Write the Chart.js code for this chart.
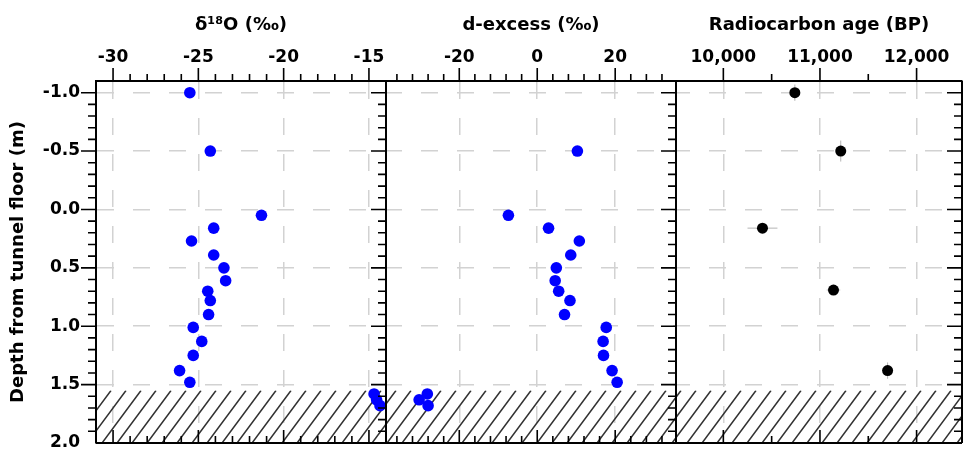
<!DOCTYPE html>
<html>
<head>
<meta charset="utf-8">
<script src="https://cdn.jsdelivr.net/npm/chart.js@4.4.0/dist/chart.umd.min.js"></script>
<style>
  html, body { margin: 0; padding: 0; background: #fff; overflow: hidden; }
  #contenedor { position: relative; width: 963px; height: 460px; }
</style>
</head>
<body>
<div id="contenedor"><canvas id="grafico" width="963" height="460"></canvas></div>
<script>
// datos (profundidad en m bajo el piso del tunel)
const depthIso = [-1.0, -0.5, 0.05, 0.16, 0.27, 0.39, 0.50, 0.61, 0.70, 0.78, 0.90, 1.01, 1.13, 1.25, 1.38, 1.48, 1.58, 1.63, 1.68]
const d18o     = [-25.5, -24.3, -21.3, -24.1, -25.4, -24.1, -23.5, -23.4, -24.45, -24.3, -24.4, -25.3, -24.8, -25.3, -26.1, -25.5, -14.7, -14.55, -14.35]

const depthDex = [-0.5, 0.05, 0.16, 0.27, 0.39, 0.50, 0.61, 0.70, 0.78, 0.90, 1.01, 1.13, 1.25, 1.38, 1.48, 1.58, 1.63, 1.68]
const dExcess  = [10.3, -7.4, 2.9, 10.8, 8.6, 4.9, 4.6, 5.5, 8.4, 7.0, 17.7, 16.9, 17.0, 19.2, 20.5, -28.2, -30.3, -28.0]

const depthC14 = [-1.0, -0.5, 0.16, 0.69, 1.38]
const ageC14   = [10740, 11215, 10405, 11140, 11700]
const ageErr   = [30, 30, 155, 70, 30]
const depthErr = [0.07, 0.09, 0.02, 0.02, 0.07]

// zona achurada (roca / sin muestra)
const hatchDepth = [1.55, 2.0]

// ejes y ticks
const yRange    = [-1.1, 2.0]
const yMajor    = [-1.0, -0.5, 0.0, 0.5, 1.0, 1.5, 2.0]
const d18oRange = [-31, -14]
const d18oMajor = [-30, -25, -20, -15]
const dexRange  = [-38.8, 35.6]
const dexMajor  = [-20, 0, 20]
const ageRange  = [9510, 12470]
const ageMajor  = [10000, 11000, 12000]

const fuente = "'DejaVu Sans', sans-serif"
const colorGrid = '#d2d2d2'
Chart.defaults.font.family = fuente
Chart.defaults.color = '#000'

function todosTicks(range, step) {
  const out = []
  const k0 = Math.ceil(range[0] / step - 1e-9)
  const k1 = Math.floor(range[1] / step + 1e-9)
  for (let k = k0; k <= k1; k++) out.push({value: +(k * step).toFixed(6)})
  return out
}
function esMayor(v, mayores) {
  return mayores.some(m => Math.abs(m - v) < 1e-6)
}

const mayoresDe = {x1: d18oMajor, x2: dexMajor, x3: ageMajor, y: yMajor}

function ejeX(range, step, mayores, titulo, peso, formato) {
  return {
    type: 'linear', axis: 'x', position: 'top', stack: 'arriba', stackWeight: peso,
    min: range[0], max: range[1],
    afterBuildTicks: s => { s.ticks = todosTicks(range, step) },
    afterFit: s => {
      s.height = 81
      s.paddingLeft = 0
      s.paddingRight = 0
    },
    ticks: {
      autoSkip: false, maxRotation: 0, padding: 0,
      font: {size: 17, weight: 'bold'},
      callback: v => esMayor(v, mayores) ? formato(v) : ''
    },
    grid: {
      drawTicks: true, tickLength: 13, tickWidth: 0, lineWidth: 1.5,
      color: ctx => ctx.tick && esMayor(ctx.tick.value, mayores) ? colorGrid : 'transparent'
    },
    border: {display: true, color: '#000', width: 2, dash: [17, 19]},
    title: {display: true, text: titulo, font: {size: 18, weight: 'bold'}, padding: {top: 15, bottom: 0}}
  }
}

const marcoPlugin = {
  id: 'marco',
  beforeDatasetsDraw(chart) {
    const {ctx, chartArea: a, scales} = chart
    const y = scales.y
    // achurado
    const yTop = y.getPixelForValue(hatchDepth[0])
    const yBot = y.getPixelForValue(hatchDepth[1])
    const h = yBot - yTop
    const dx = h / 1.35
    ctx.save()
    ctx.beginPath()
    ctx.rect(a.left, yTop, a.right - a.left, h)
    ctx.clip()
    ctx.strokeStyle = '#333'
    ctx.lineWidth = 1.5
    ctx.beginPath()
    for (let x = a.left - dx; x < a.right + dx; x += 15) {
      ctx.moveTo(x, yBot)
      ctx.lineTo(x + dx, yTop)
    }
    ctx.stroke()
    ctx.restore()

    // barras de error radiocarbono
    const sx = scales.x3
    ctx.save()
    ctx.strokeStyle = '#b5b5b5'
    ctx.lineWidth = 1
    ctx.beginPath()
    ageC14.forEach((age, i) => {
      const px = sx.getPixelForValue(age)
      const py = y.getPixelForValue(depthC14[i])
      ctx.moveTo(sx.getPixelForValue(age - ageErr[i]), py)
      ctx.lineTo(sx.getPixelForValue(age + ageErr[i]), py)
      ctx.moveTo(px, y.getPixelForValue(depthC14[i] - depthErr[i]))
      ctx.lineTo(px, y.getPixelForValue(depthC14[i] + depthErr[i]))
    })
    ctx.stroke()
    ctx.restore()
  },
  afterDraw(chart) {
    const {ctx, chartArea: a, scales} = chart
    ctx.save()
    ctx.strokeStyle = '#000'
    ctx.lineWidth = 1.6
    ctx.beginPath()
    // ticks arriba (hacia afuera) y abajo (hacia adentro)
    for (const id of ['x1', 'x2', 'x3']) {
      const s = scales[id]
      for (const t of s.ticks) {
        const px = s.getPixelForValue(t.value)
        if (px <= s.left + 1 || px >= s.right - 1) continue
        const len = esMayor(t.value, mayoresDe[id]) ? 13 : 7
        ctx.moveTo(px, a.top)
        ctx.lineTo(px, a.top - len)
        ctx.moveTo(px, a.bottom)
        ctx.lineTo(px, a.bottom - len)
      }
    }
    // ticks izquierda (afuera) y borde derecho de cada panel (adentro)
    const y = scales.y
    const bordes = [scales.x1.right, scales.x2.right, scales.x3.right]
    for (const t of y.ticks) {
      const py = y.getPixelForValue(t.value)
      if (py <= a.top + 1 || py >= a.bottom - 1) continue
      const len = esMayor(t.value, yMajor) ? 15 : 8
      ctx.moveTo(a.left - len, py)
      ctx.lineTo(a.left, py)
      for (const bx of bordes) {
        ctx.moveTo(bx - len, py)
        ctx.lineTo(bx, py)
      }
    }
    ctx.stroke()
    // marco de los paneles
    ctx.lineWidth = 2
    ctx.beginPath()
    ctx.moveTo(a.left, a.top); ctx.lineTo(a.right, a.top)
    ctx.moveTo(a.left, a.bottom); ctx.lineTo(a.right, a.bottom)
    ctx.moveTo(a.left, a.top); ctx.lineTo(a.left, a.bottom)
    for (const bx of bordes) {
      ctx.moveTo(bx, a.top); ctx.lineTo(bx, a.bottom)
    }
    ctx.stroke()
    ctx.restore()
  }
}

const puntos = (xs, ys) => xs.map((v, i) => ({x: v, y: ys[i]}))

const grafico = new Chart(document.getElementById('grafico'), {
  type: 'scatter',
  data: {
    datasets: [
      {
        label: 'δ18O', data: puntos(d18o, depthIso), xAxisID: 'x1', yAxisID: 'y',
        backgroundColor: '#0000ff', pointRadius: 5.8, pointBorderWidth: 0
      },
      {
        label: 'd-excess', data: puntos(dExcess, depthDex), xAxisID: 'x2', yAxisID: 'y',
        backgroundColor: '#0000ff', pointRadius: 5.8, pointBorderWidth: 0
      },
      {
        label: 'Radiocarbon age', data: puntos(ageC14, depthC14), xAxisID: 'x3', yAxisID: 'y',
        backgroundColor: '#000000', pointRadius: 5.5, pointBorderWidth: 0
      }
    ]
  },
  options: {
    responsive: false,
    animation: false,
    events: [],
    layout: {autoPadding: false, padding: {left: 0, top: 0, right: 1, bottom: 17}},
    plugins: {legend: {display: false}, tooltip: {enabled: false}},
    scales: {
      // los ejes de arriba se ubican en orden inverso al declarado
      x3: ejeX(ageRange, 500, ageMajor, 'Radiocarbon age (BP)', 286, v => v.toLocaleString('en-US')),
      x2: ejeX(dexRange, 4, dexMajor, 'd-excess (‰)', 290, v => String(v)),
      x1: ejeX(d18oRange, 1, d18oMajor, 'δ¹⁸O (‰)', 290, v => String(v)),
      y: {
        type: 'linear', axis: 'y', position: 'left', reverse: true,
        min: yRange[0], max: yRange[1],
        afterBuildTicks: s => { s.ticks = todosTicks(yRange, 0.1) },
        afterFit: s => {
          s.width = 96
          s.paddingTop = 0
          s.paddingBottom = 0
        },
        ticks: {
          autoSkip: false, padding: 0,
          font: {size: 17, weight: 'bold'},
          callback: v => esMayor(v, yMajor) ? v.toFixed(1) : ''
        },
        grid: {
          drawTicks: true, tickLength: 16, tickWidth: 0, lineWidth: 1.5,
          color: ctx => ctx.tick && esMayor(ctx.tick.value, yMajor) ? colorGrid : 'transparent'
        },
        border: {display: true, color: '#000', width: 2, dash: [17, 19]},
        title: {display: true, text: 'Depth from tunnel floor (m)', font: {size: 18, weight: 'bold'}, padding: {top: 8, bottom: 0}}
      }
    }
  },
  plugins: [marcoPlugin]
})
</script>
</body>
</html>
